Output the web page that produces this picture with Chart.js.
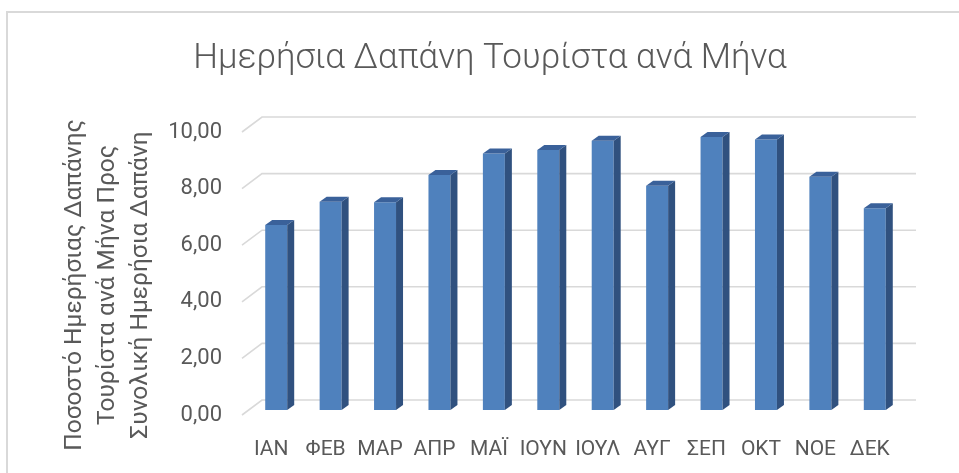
<!DOCTYPE html>
<html>
<head>
<meta charset="utf-8">
<script src="https://cdn.jsdelivr.net/npm/chart.js@4.4.0/dist/chart.umd.min.js"></script>
<style>
  html, body { margin: 0; background: #fff; }
  #wrap { width: 959px; height: 473px; position: relative; }
</style>
</head>
<body>
<div id="wrap"><canvas id="chart"></canvas></div>
<script>
// data
const months = ['ΙΑΝ', 'ΦΕΒ', 'ΜΑΡ', 'ΑΠΡ', 'ΜΑΪ', 'ΙΟΥΝ', 'ΙΟΥΛ', 'ΑΥΓ', 'ΣΕΠ', 'ΟΚΤ', 'ΝΟΕ', 'ΔΕΚ'];
const spend = [6.54, 7.36, 7.34, 8.30, 9.06, 9.19, 9.51, 7.92, 9.65, 9.56, 8.24, 7.13];
const yTicks = [0, 2, 4, 6, 8, 10];
const titleText = 'Ημερήσια Δαπάνη Τουρίστα ανά Μήνα';
const yTitleLines = ['Ποσοστό Ημερήσιας Δαπάνης', 'Τουρίστα ανά Μήνα Προς', 'Συνολική Ημερήσια Δαπάνη'];

const textColor = '#595959';
const gridColor = '#d9d9d9';

// --- fake 3D: back wall grid, bar sides and tops, frame, axis title ---
const depth3d = {
  id: 'depth3d',
  beforeDraw(chart) {
    const ctx = chart.ctx;
    ctx.save();
    ctx.strokeStyle = gridColor;
    ctx.lineWidth = 2;
    ctx.beginPath();
    ctx.moveTo(7, chart.height);
    ctx.lineTo(7, 12);
    ctx.lineTo(chart.width, 12);
    ctx.stroke();
    ctx.restore();
  },
  beforeDatasetsDraw(chart) {
    const ctx = chart.ctx, a = chart.chartArea, ys = chart.scales.y;
    ctx.save();
    ctx.strokeStyle = gridColor;
    ctx.lineWidth = 1.6;
    yTicks.forEach(v => {
      const y = ys.getPixelForValue(v);
      ctx.beginPath();
      ctx.moveTo(a.left - 7, y + 5);
      ctx.lineTo(a.left + 13, y - 10);
      ctx.lineTo(a.right + 14, y - 10);
      ctx.stroke();
    });
    ctx.restore();
  },
  afterDatasetsDraw(chart) {
    const ctx = chart.ctx;
    const dx = 7, dy = 5;
    ctx.save();
    chart.getDatasetMeta(0).data.forEach(bar => {
      const p = bar.getProps(['x', 'y', 'width', 'base'], true);
      const l = p.x - p.width / 2, r = p.x + p.width / 2;
      ctx.fillStyle = '#30517f';
      ctx.beginPath();
      ctx.moveTo(r, p.y);
      ctx.lineTo(r + dx, p.y - dy);
      ctx.lineTo(r + dx, p.base - dy);
      ctx.lineTo(r, p.base);
      ctx.closePath();
      ctx.fill();
      ctx.fillStyle = '#3a619a';
      ctx.beginPath();
      ctx.moveTo(l, p.y);
      ctx.lineTo(l + dx, p.y - dy);
      ctx.lineTo(r + dx, p.y - dy);
      ctx.lineTo(r, p.y);
      ctx.closePath();
      ctx.fill();
    });
    ctx.restore();
  },
  afterDraw(chart) {
    const ctx = chart.ctx;
    const xs = [75, 108, 141];
    ctx.save();
    ctx.fillStyle = textColor;
    ctx.font = '24.5px Roboto';
    ctx.textAlign = 'center';
    ctx.textBaseline = 'middle';
    yTitleLines.forEach((line, i) => {
      ctx.save();
      ctx.translate(xs[i], 285);
      ctx.rotate(-Math.PI / 2);
      ctx.fillText(line, 0, 0);
      ctx.restore();
    });
    ctx.restore();
  }
};

new Chart(document.getElementById('chart'), {
  type: 'bar',
  data: {
    labels: months,
    datasets: [{
      data: spend,
      backgroundColor: '#4f81bd',
      borderWidth: 0,
      barPercentage: 0.404,
      categoryPercentage: 1
    }]
  },
  options: {
    responsive: true,
    maintainAspectRatio: false,
    animation: false,
    layout: { padding: { left: 78, right: 57, top: 0, bottom: 0 } },
    plugins: {
      legend: { display: false },
      tooltip: { enabled: false },
      title: {
        display: true,
        text: titleText,
        color: textColor,
        font: { family: 'Roboto', size: 35, weight: '300' },
        padding: { top: 38, bottom: 47 }
      }
    },
    scales: {
      x: {
        afterFit(scale) { scale.height = 63; },
        grid: { display: false, drawTicks: false },
        border: { display: false },
        ticks: {
          color: textColor,
          font: { family: 'Roboto', size: 21 },
          padding: 27,
          labelOffset: -5,
          maxRotation: 0,
          autoSkip: false
        }
      },
      y: {
        min: 0,
        max: 10,
        afterFit(scale) { scale.width = 171; },
        afterBuildTicks(scale) { scale.ticks = yTicks.map(v => ({ value: v })); },
        grid: { display: false, drawTicks: false },
        border: { display: false },
        ticks: {
          color: textColor,
          font: { family: 'Roboto', size: 22 },
          padding: 27,
          labelOffset: 5,
          callback: v => v.toFixed(2).replace('.', ',')
        }
      }
    }
  },
  plugins: [depth3d]
});
</script>
</body>
</html>
